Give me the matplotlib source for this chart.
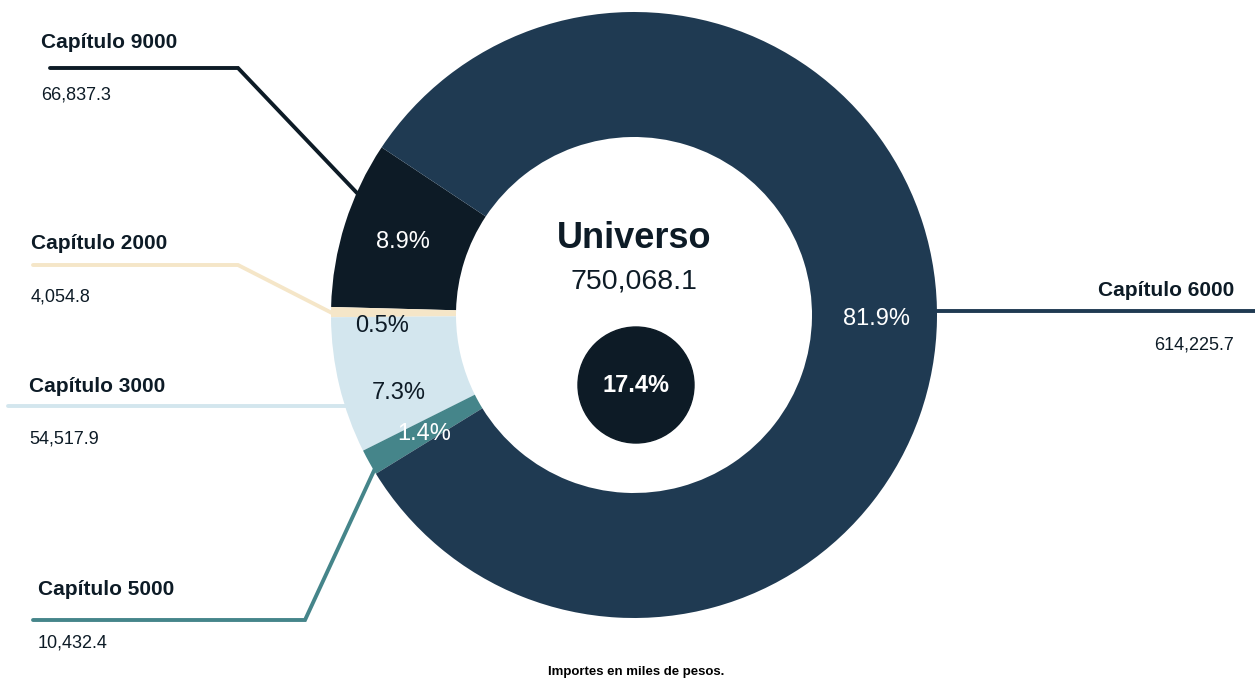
import matplotlib
matplotlib.use("Agg")
import matplotlib.pyplot as plt
from matplotlib.patches import Circle

plt.rcParams['font.family'] = ['Liberation Sans', 'DejaVu Sans']

# ---- data ----
categories = ["Capítulo 9000", "Capítulo 2000", "Capítulo 3000", "Capítulo 5000", "Capítulo 6000"]
values = [66837.3, 4054.8, 54517.9, 10432.4, 614225.7]
value_labels = ["66,837.3", "4,054.8", "54,517.9", "10,432.4", "614,225.7"]
colors = ["#0d1b26", "#f5e6c8", "#d3e6ee", "#45858a", "#1f3a52"]
pct_colors = ["white", "#0d1b26", "#0d1b26", "white", "white"]
total_label = "750,068.1"
center_title = "Universo"
highlight_pct = "17.4%"
footer = "Importes en miles de pesos."

W, H = 1255, 681
fig = plt.figure(figsize=(W / 100, H / 100), dpi=100)
ax = fig.add_axes([0, 0, 1, 1])
ax.set_xlim(0, W)
ax.set_ylim(0, H)
ax.set_aspect('equal')
ax.axis('off')

def Y(y):
    return H - y

cx, cy = 634, Y(315)
R = 303
ring = 125

wedges, texts, autotexts = ax.pie(
    values, colors=colors, startangle=146.4, counterclock=True,
    center=(cx, cy), radius=R, wedgeprops=dict(width=ring, linewidth=0),
    autopct=lambda p: f"{p:.1f}%", pctdistance=0.8,
    textprops=dict(fontsize=17), frame=True)
ax.set_xlim(0, W)
ax.set_ylim(0, H)
ax.axis('off')
for t, c in zip(autotexts, pct_colors):
    t.set_color(c)
    t.set_zorder(5)
# nudge small-slice labels as in reference
autotexts[1].set_position((382, Y(326)))
autotexts[2].set_position((399, Y(393)))
autotexts[3].set_position((424, Y(434)))

# leader lines (drawn beneath the donut)
lw = 2.8
leaders = [
    ([50, 238, 357], [68, 68, 193]),
    ([33, 238, 332], [265, 265, 313]),
    ([8, 350], [406, 406]),
    ([33, 305, 378], [620, 620, 462]),
    ([930, 1255], [311, 311]),
]
for (xs, ys), c in zip(leaders, colors):
    ax.plot(xs, [Y(v) for v in ys], color=c, lw=lw, solid_capstyle='round',
            solid_joinstyle='miter', zorder=0)

# category labels
label_pos = [(41, 48, 100, 'left'), (31, 249, 301, 'left'), (29, 392, 443, 'left'),
             (38, 595, 647, 'left'), (1234, 296, 349, 'right')]
for cat, val, (x, yt, yv, ha) in zip(categories, value_labels, label_pos):
    ax.text(x, Y(yt), cat, fontsize=15, fontweight='bold', color="#0d1b26",
            ha=ha, va='baseline')
    ax.text(x, Y(yv), val, fontsize=13, color="#0d1b26", ha=ha, va='baseline')

# center texts
ax.text(cx, Y(248), center_title, fontsize=26, fontweight='bold', color="#0d1b26",
        ha='center', va='baseline')
ax.text(cx, Y(288), total_label, fontsize=20.5, color="#0d1b26",
        ha='center', va='baseline')
ax.add_patch(Circle((636, Y(385)), 58, color="#0d1b26", zorder=4))
ax.text(636, Y(385), highlight_pct, fontsize=17, fontweight='bold', color='white',
        ha='center', va='center', zorder=6)

ax.text(636, Y(672), footer, fontsize=9.5, fontweight='bold', color='black',
        ha='center', va='center')

fig.savefig("out.png", dpi=100)
